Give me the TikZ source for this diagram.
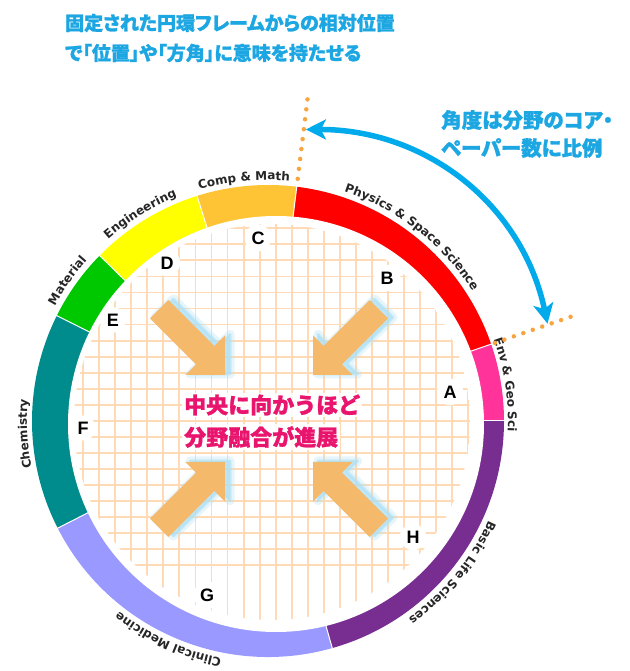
\documentclass[tikz,border=0pt]{standalone}
\usepackage{fontspec}
\usetikzlibrary{decorations.text,arrows.meta}
\newfontfamily\cjk{Noto Sans CJK JP}[BoldFeatures={FakeBold=1.3}]
\newfontfamily\cjkp{Noto Sans CJK JP}[RawFeature=+palt, BoldFeatures={FakeBold=1.3}]
\newfontfamily\labfam{DejaVu Sans}
\newfontfamily\letfam{Liberation Sans}
\definecolor{envc}{RGB}{255,51,153}
\definecolor{physc}{RGB}{255,0,0}
\definecolor{compc}{RGB}{255,196,54}
\definecolor{engc}{RGB}{255,255,0}
\definecolor{matc}{RGB}{0,200,0}
\definecolor{chemc}{RGB}{0,140,140}
\definecolor{clinc}{RGB}{153,153,255}
\definecolor{basicc}{RGB}{120,45,145}
\definecolor{gridc}{RGB}{255,218,180}
\definecolor{arrc}{RGB}{245,185,108}
\definecolor{glowc}{RGB}{175,225,245}
\definecolor{dotc}{RGB}{247,165,65}
\definecolor{bluec}{RGB}{0,170,235}
\definecolor{titlec}{RGB}{28,166,226}
\definecolor{pinkc}{RGB}{232,20,110}
\definecolor{labgray}{RGB}{38,38,38}
\newcommand{\labf}{\labfam\bfseries\fontsize{12}{14}\selectfont\color{labgray}}
\newcommand{\arclabel}[3]{\path[decorate, decoration={text along path, text align=center, text={|\labf|#3}}] ({#1+60}:#2) arc[start angle={#1+60}, end angle={#1-60}, radius=#2];}
\newcommand{\fatarrow}[3]{%
  \begin{scope}[shift={({#1+5},{#2+1})}, rotate=#3]
    \fill[glowc, draw=glowc, line width=9pt, opacity=0.3, line join=round] (0,0) -- (-28,28) -- (-28,13) -- (-93,13) -- (-93,-13) -- (-28,-13) -- (-28,-28) -- cycle;
    \fill[glowc, draw=glowc, line width=3pt, opacity=0.6, line join=round] (0,0) -- (-28,28) -- (-28,13) -- (-93,13) -- (-93,-13) -- (-28,-13) -- (-28,-28) -- cycle;
  \end{scope}
  \begin{scope}[shift={(#1,#2)}, rotate=#3]
    \fill[arrc] (0,0) -- (-28,28) -- (-28,13) -- (-93,13) -- (-93,-13) -- (-28,-13) -- (-28,-28) -- cycle;
  \end{scope}}
\tikzset{
  letter/.style={circle, fill=white, inner sep=3pt, text=black, font=\letfam\bfseries\fontsize{18}{18}\selectfont},
  ctext/.style={anchor=west, inner sep=2pt, fill=white, fill opacity=0.85, text opacity=1, text=pinkc, font=\cjk\bfseries\fontsize{22}{22}\selectfont},
  headtext/.style={anchor=west, inner sep=0pt, text=titlec, font=\cjkp\bfseries\fontsize{19}{19}\selectfont},
  sidetext/.style={anchor=west, inner sep=0pt, text=titlec, font=\cjkp\bfseries\fontsize{20.5}{20.5}\selectfont},
  dotline/.style={draw=dotc, line width=4.5pt, line cap=round, dash pattern=on 0pt off 10pt},
  bluearr/.style={draw=bluec, line width=5.5pt, {Stealth[length=20pt,width=20pt,inset=5pt]}-{Stealth[length=20pt,width=20pt,inset=5pt]}},
  gridline/.style={draw=gridc, line width=1.8pt}
}
\begin{document}
\begin{tikzpicture}[x=1pt,y=1pt]
\useasboundingbox (-268,-250) rectangle (361,421);
\fill[white] (-268,-250) rectangle (361,421);
% ring sectors
\foreach \a/\b/\c in {0/19/envc, 19/83/physc, 83/107.5/compc, 107.5/135.5/engc, 135.5/153.5/matc, 153.5/207/chemc, 207/285.8/clinc, 285.8/360/basicc}
  \fill[\c] (0,0) -- (\a:236) arc[start angle=\a, end angle=\b, radius=236] -- cycle;
\fill[white] (8,-3) circle[radius=208];
\foreach \a in {0,19,83,107.5,135.5,153.5,207,285.8}
  \draw[white, line width=1pt] (\a:195) -- (\a:238);
% grid
\begin{scope}
  \clip (4,-1) circle[radius=198];
  \foreach \k in {-6,...,21} {
    \draw[gridline] ({-120.7+16.05*\k},-220) -- ++(0,440);
    \draw[gridline] (-220,{192.7-16.05*\k}) -- ++(440,0);
  }
\end{scope}
% arrows to centre
\fatarrow{-43}{46}{-45}
\fatarrow{45}{46}{-135}
\fatarrow{-43}{-41}{45}
\fatarrow{45}{-41}{135}
% centre text
\node[ctext] (t1) at (-86,16) {中央に向かうほど};
\node[ctext] (t2) at (-86,-16) {分野融合が進展};
% letters
\node[letter] (A) at (182,29) {A};
\node[letter] (B) at (119,143) {B};
\node[letter] (C) at (-10,183) {C};
\node[letter] (D) at (-101,158) {D};
\node[letter] (E) at (-155,101) {E};
\node[letter] (F) at (-185,-7) {F};
\node[letter] (G) at (-61,-174) {G};
\node[letter] (H) at (145,-116) {H};
% ring labels
\arclabel{95.7}{241}{Comp {\&} Math}
\arclabel{52}{242}{Physics {\&} Space Science}
\arclabel{8.7}{240}{Env {\&} Geo Sci}
\arclabel{-39.4}{242}{Basic Life Sciences}
\arclabel{-114.5}{242}{Clinical Medicine}
\arclabel{183}{241}{Chemistry}
\arclabel{145}{242}{Material}
\arclabel{121.7}{242}{Engineering}
% dotted rays
\coordinate (d1s) at (83:244);
\coordinate (d1e) at (83:328);
\coordinate (d2s) at (19:240);
\coordinate (d2e) at (19:328);
\draw[dotline] (d1s) -- (d1e);
\draw[dotline] (d2s) -- (d2e);
% blue arrow
\coordinate (b1) at (82.6:294);
\coordinate (b2) at (19.2:296);
\draw[bluearr] (b1) to[out=0,in=102] (b2);
% headings
\node[headtext] (h1) at (-203,398) {固定された円環フレームからの相対位置};
\node[headtext] (h2) at (-203,368) {で「位置」や「方角」に意味を持たせる};
\node[sidetext] (s1) at (173,301) {角度は分野のコア・};
\node[sidetext] (s2) at (173,273) {ペーパー数に比例};
\end{tikzpicture}
\end{document}
